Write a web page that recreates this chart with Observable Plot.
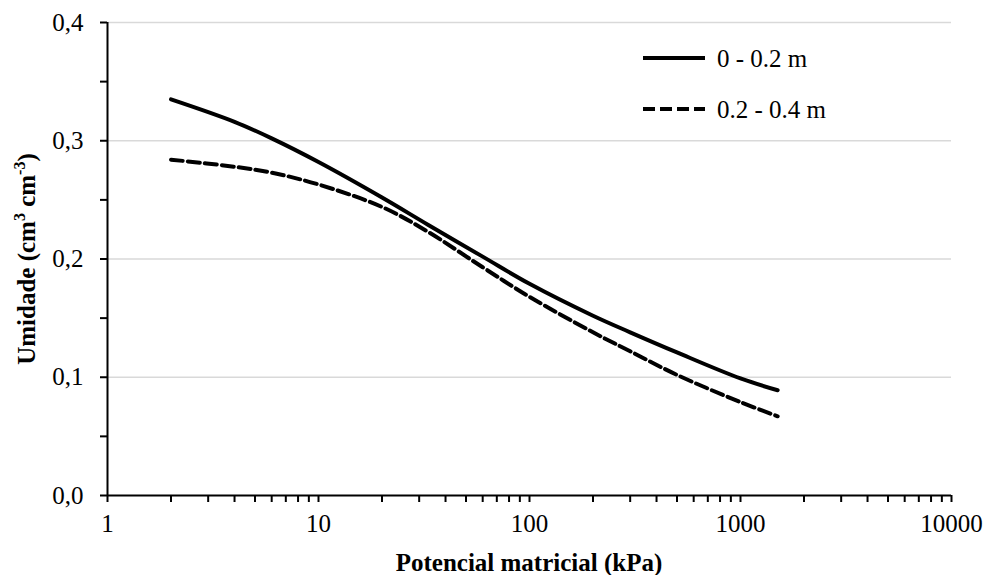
<!DOCTYPE html>
<html>
<head>
<meta charset="utf-8">
<script src="https://cdn.jsdelivr.net/npm/d3@7"></script>
<script src="https://cdn.jsdelivr.net/npm/@observablehq/plot@0.6"></script>
<style>
  html, body { margin: 0; padding: 0; background: #fff; }
  #wrap { position: relative; width: 986px; height: 575px; font-family: "Liberation Serif", "Times New Roman", serif; }
  #overlay { position: absolute; left: 0; top: 0; pointer-events: none; }
</style>
</head>
<body>
<div id="wrap"></div>
<script>
// Matric potential (kPa)
const potential = [2, 4, 6, 10, 20, 33, 60, 100, 200, 300, 500, 1000, 1500];
// Water content (cm3 cm-3), layer 0 - 0.2 m
const layer1 = [0.335, 0.316, 0.302, 0.282, 0.252, 0.229, 0.202, 0.179, 0.152, 0.138, 0.121, 0.099, 0.089];
// Water content (cm3 cm-3), layer 0.2 - 0.4 m
const layer2 = [0.284, 0.278, 0.273, 0.263, 0.244, 0.223, 0.193, 0.168, 0.138, 0.122, 0.102, 0.079, 0.067];
const seriesNames = ["0 - 0.2 m", "0.2 - 0.4 m"];
const xLabels = [1, 10, 100, 1000, 10000];
const yTicks = [0, 0.05, 0.1, 0.15, 0.2, 0.25, 0.3, 0.35, 0.4];
const yGrid = [0.1, 0.2, 0.3, 0.4];

const xTicks = [];
for (const p of xLabels.slice(0, -1)) for (let k = 1; k < 10; k++) xTicks.push(p * k);
xTicks.push(10000);

const data = [];
potential.forEach((p, i) => {
  data.push({x: p, y: layer1[i], s: seriesNames[0]});
  data.push({x: p, y: layer2[i], s: seriesNames[1]});
});

const chart = Plot.plot({
  width: 986,
  height: 575,
  marginLeft: 107,
  marginRight: 35,
  marginTop: 22,
  marginBottom: 80,
  style: {fontFamily: '"Liberation Serif", "Times New Roman", serif', fontSize: "25px", color: "#000", background: "#fff"},
  x: {type: "log", domain: [1, 10000]},
  y: {domain: [0, 0.4]},
  marks: [
    Plot.gridY(yGrid, {stroke: "#d9d9d9", strokeOpacity: 1, strokeWidth: 1.5}),
    Plot.axisY({
      ticks: yTicks, tickSize: 7, tickPadding: 17, strokeWidth: 2, fontSize: 25, label: null,
      tickFormat: d => Math.abs(d * 10 - Math.round(d * 10)) < 1e-9 ? d.toFixed(1).replace(".", ",") : ""
    }),
    Plot.axisX({
      ticks: xTicks, tickSize: 7, tickPadding: 12, strokeWidth: 2, fontSize: 25, label: null,
      tickFormat: d => xLabels.includes(d) ? String(d) : ""
    }),
    Plot.ruleY([0], {stroke: "#000", strokeWidth: 2}),
    Plot.ruleX([1], {stroke: "#000", strokeWidth: 2}),
    Plot.line(data.filter(d => d.s === seriesNames[0]), {x: "x", y: "y", stroke: "#000", strokeWidth: 4, curve: "catmull-rom"}),
    Plot.line(data.filter(d => d.s === seriesNames[1]), {x: "x", y: "y", stroke: "#000", strokeWidth: 4, curve: "catmull-rom", strokeDasharray: "12,5"})
  ]
});

const wrap = document.getElementById("wrap");
wrap.appendChild(chart);

const ns = "http://www.w3.org/2000/svg";
const ov = document.createElementNS(ns, "svg");
ov.setAttribute("id", "overlay");
ov.setAttribute("width", 986);
ov.setAttribute("height", 575);
ov.innerHTML = `
  <g font-family="Liberation Serif, Times New Roman, serif" fill="#000">
    <text x="529" y="571" text-anchor="middle" font-size="25" font-weight="bold">Potencial matricial (kPa)</text>
    <text transform="translate(35,259) rotate(-90)" text-anchor="middle" font-size="25" font-weight="bold">Umidade (cm<tspan font-size="16" dy="-10">3</tspan><tspan dy="10"> cm</tspan><tspan font-size="16" dy="-10">-3</tspan><tspan dy="10">)</tspan></text>
    <line x1="643" x2="705" y1="58" y2="58" stroke="#000" stroke-width="4"/>
    <text x="717" y="67" font-size="25">${seriesNames[0]}</text>
    <line x1="643" x2="705" y1="109" y2="109" stroke="#000" stroke-width="4" stroke-dasharray="12,5"/>
    <text x="717" y="118" font-size="25">${seriesNames[1]}</text>
  </g>`;
wrap.appendChild(ov);
</script>
</body>
</html>
